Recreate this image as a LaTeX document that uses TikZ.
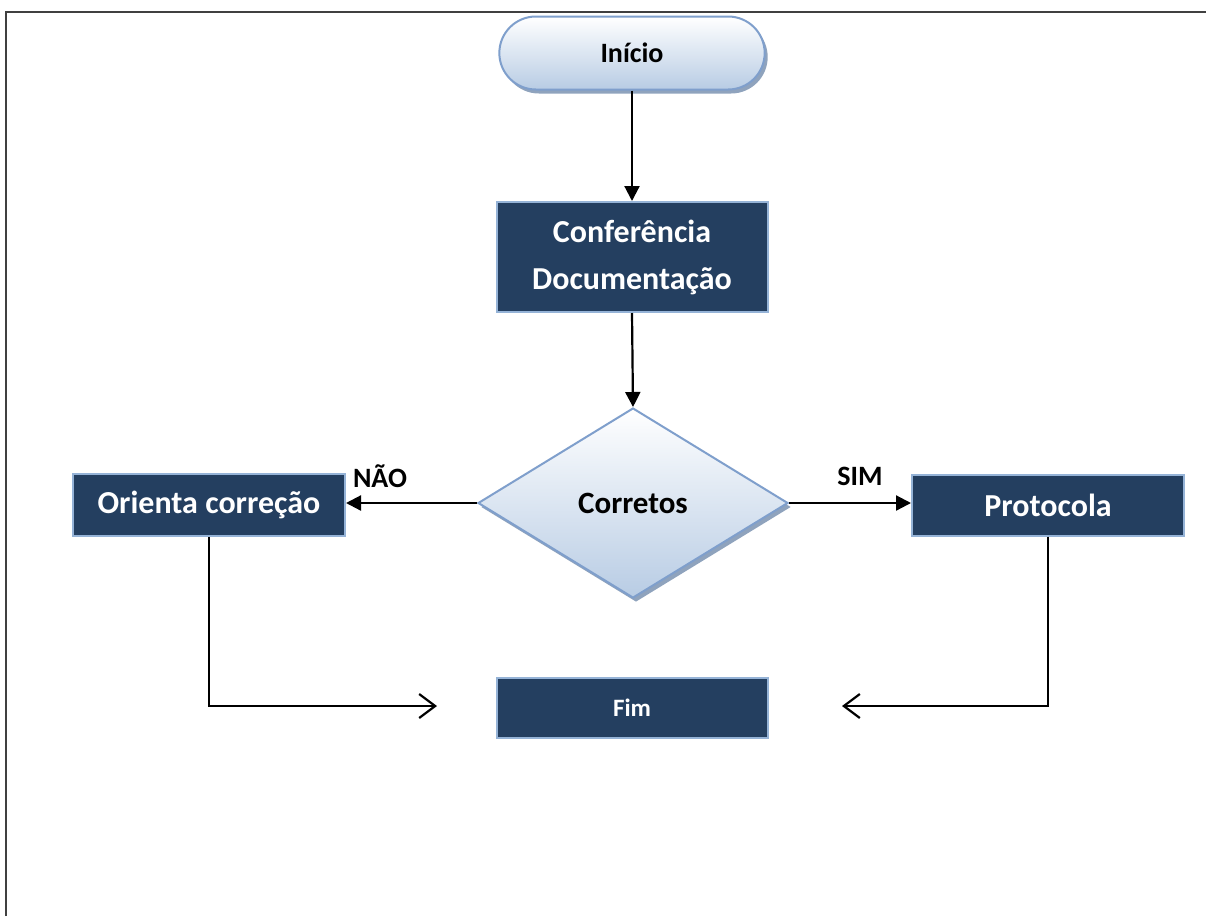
\documentclass[tikz,border=0pt]{standalone}
\usepackage{fontspec}
\setmainfont{Carlito}
\usetikzlibrary{shapes.geometric,shapes.misc,arrows.meta,shadows}
\definecolor{boxfill}{HTML}{243F60}
\definecolor{boxedge}{HTML}{95B3D7}
\definecolor{lightedge}{HTML}{7F9FCC}
\definecolor{gradbot}{HTML}{B8CCE4}
\definecolor{shadowc}{HTML}{8FA3BD}
\tikzset{
  darkbox/.style={rectangle, draw=boxedge, line width=2pt, fill=boxfill, text=white,
    font=\bfseries\fontsize{32}{47}\selectfont, minimum width=271pt, align=center, inner sep=0pt},
  startbox/.style={rounded rectangle, draw=lightedge, line width=2pt, top color=white, bottom color=gradbot,
    minimum width=272pt, minimum height=73pt, font=\bfseries\fontsize{28}{34}\selectfont,
    drop shadow={shadow xshift=3pt, shadow yshift=-4pt, fill=shadowc, opacity=1}},
  decision/.style={diamond, aspect=1.63, draw=lightedge, line width=2pt, top color=white, bottom color=gradbot,
    minimum width=310pt, minimum height=190pt, inner sep=0pt, font=\bfseries\fontsize{31}{36}\selectfont,
    drop shadow={shadow xshift=3pt, shadow yshift=-4pt, fill=shadowc, opacity=1}},
  flow/.style={line width=2.2pt, -{Triangle[length=15pt,width=15pt]}},
  openflow/.style={line width=2.2pt, -{Straight Barb[length=16pt,width=24pt,line width=2.2pt]}},
  lbl/.style={font=\bfseries\fontsize{28}{34}\selectfont, inner sep=0pt}
}
\begin{document}
\begin{tikzpicture}[x=1pt,y=-1pt]
\useasboundingbox (0,0) rectangle (1206,916);
\fill[white] (0,0) rectangle (1206,916);
\draw[line width=2pt, color=black!75] (6,916) -- (6,12) -- (1206,12);

\node[startbox] (inicio) at (632,53) {Início};
\node[darkbox, minimum height=110pt] (conf) at (632,257) {Conferência\\Documentação};
\node[decision] (dec) at (633,503) {Corretos};
\node[darkbox, minimum width=272pt, minimum height=62pt] (orienta) at (209,505) {Orienta correção};
\node[darkbox, minimum width=272pt, minimum height=61pt] (proto) at (1048,505) {Protocola};
\node[darkbox, minimum height=60pt, font=\bfseries\fontsize{25}{28}\selectfont] (fim) at (632,708) {Fim};

\node[lbl] (nao) at (380,476) {NÃO};
\node[lbl] (sim) at (860,476) {SIM};

\coordinate (leftend) at (437,706);
\coordinate (rightend) at (842,706);

\draw[flow] (inicio.south) -- (conf.north);
\draw[flow] (conf.south) -- (dec.north);
\draw[flow] (dec.west) -- (dec.west -| orienta.east);
\draw[flow] (dec.east) -- (dec.east -| proto.west);
\draw[openflow] (orienta.south) |- (leftend);
\draw[openflow] (proto.south) |- (rightend);
\end{tikzpicture}
\end{document}
